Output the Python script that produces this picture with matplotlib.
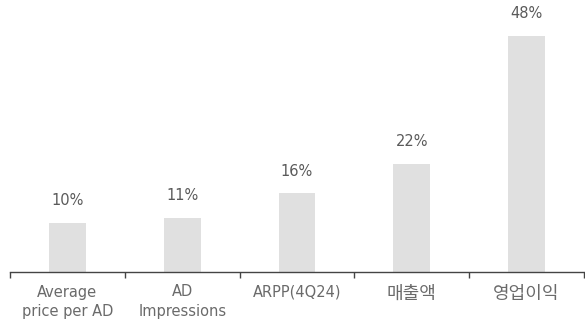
import numpy as np
import matplotlib.pyplot as plt

plt.rcParams['font.family'] = ['DejaVu Sans', 'Noto Sans CJK KR']

categories = ['Average\nprice per AD', 'AD\nImpressions', 'ARPP(4Q24)', '매출액', '영업이익']
values = [10, 11, 16, 22, 48]

fig = plt.figure(figsize=(5.85, 3.27), dpi=100)
ax = fig.add_axes([10/585, 1 - 272/327, 574/585, 272/327])

x = np.arange(len(categories))
ax.bar(x, values, width=0.32, color='#e0e0e0', zorder=2)
for xi, v in zip(x, values):
    ax.text(xi, v + 3.0, f'{v}%', ha='center', va='bottom', fontsize=10.5, color='#5a5a5a')

ax.set_xlim(-0.5, len(categories) - 0.5)
ax.set_ylim(0, 55.3)
ax.set_yticks([])
for s in ['top', 'right', 'left']:
    ax.spines[s].set_visible(False)
ax.spines['bottom'].set_color('#444444')
ax.spines['bottom'].set_linewidth(1.0)

ax.set_xticks(x)
ax.set_xticklabels(categories, fontsize=10.5, color='#6a6a6a', linespacing=1.4)
for lbl in ax.get_xticklabels():
    if not lbl.get_text().isascii():
        lbl.set_fontsize(13)
ax.tick_params(axis='x', which='major', length=0, pad=9)
ax.set_xticks(np.arange(-0.5, len(categories)), minor=True)
ax.tick_params(axis='x', which='minor', length=4, width=1, color='#444444', direction='out')

fig.savefig('out.png', dpi=100)
